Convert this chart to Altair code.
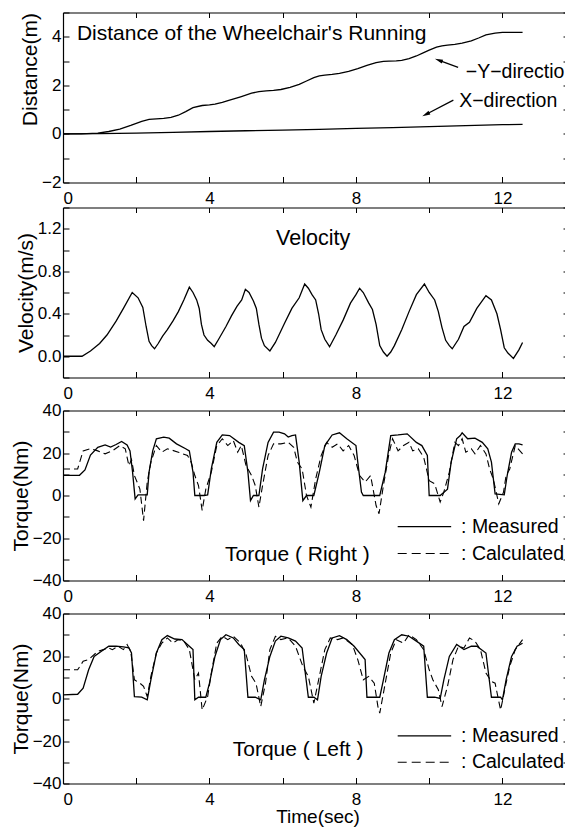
import altair as alt
import pandas as pd

FONT = "Liberation Sans"
W, H = 509, 170
X_DOM = [0, 13.9]
X_LABELS = [0, 4, 8, 12]
X_TICKS = [0, 2, 4, 6, 8, 10, 12]

# ---------------- data ----------------
# Panel 1: distance
disty_t = [0, 0.5, 0.95, 1.25, 1.55, 1.85, 2.15, 2.35, 2.55, 2.75, 2.95, 3.15, 3.35, 3.55, 3.8, 4.0,
           4.15, 4.35, 4.55, 4.85, 5.15, 5.35, 5.55, 5.75, 5.95, 6.2, 6.45, 6.65, 6.85, 7.0, 7.15,
           7.35, 7.55, 7.8, 8.05, 8.3, 8.55, 8.75, 8.9, 9.1, 9.25, 9.45, 9.65, 9.85, 10.0, 10.2,
           10.35, 10.5, 10.7, 10.9, 11.15, 11.35, 11.55, 11.8, 12.0, 12.3, 12.55]
disty_v = [0, 0.0, 0.03, 0.1, 0.2, 0.35, 0.52, 0.6, 0.62, 0.64, 0.68, 0.77, 0.92, 1.08, 1.17, 1.2,
           1.23, 1.3, 1.39, 1.53, 1.68, 1.74, 1.77, 1.79, 1.83, 1.92, 2.04, 2.18, 2.32, 2.39, 2.42,
           2.45, 2.49, 2.58, 2.69, 2.82, 2.94, 2.99, 3.0, 3.01, 3.03, 3.1, 3.21, 3.35, 3.45, 3.57,
           3.63, 3.66, 3.69, 3.74, 3.83, 3.95, 4.08, 4.15, 4.18, 4.18, 4.18]
distx_t = [0, 1, 2, 3, 4, 5, 6, 7, 8, 9, 10, 11, 12, 12.55]
distx_v = [0, 0.01, 0.03, 0.06, 0.1, 0.13, 0.16, 0.19, 0.23, 0.26, 0.3, 0.34, 0.38, 0.39]

# Panel 2: velocity
vel_t = [0, 0.52, 0.75, 1.0, 1.2, 1.45, 1.65, 1.89, 2.05, 2.18, 2.27, 2.35, 2.42, 2.5, 2.6, 2.72,
         2.85, 3.0, 3.15, 3.3, 3.45, 3.55, 3.65, 3.72, 3.78, 3.85, 3.95, 4.05, 4.13, 4.25, 4.45,
         4.6, 4.75, 4.88, 4.98, 5.08, 5.2, 5.28, 5.35, 5.42, 5.5, 5.65, 5.8, 6.05, 6.25, 6.45,
         6.6, 6.7, 6.8, 6.9, 6.98, 7.05, 7.15, 7.28, 7.45, 7.65, 7.85, 8.0, 8.1, 8.2, 8.35, 8.45,
         8.55, 8.65, 8.75, 8.85, 8.95, 9.05, 9.25, 9.45, 9.65, 9.87, 10.0, 10.15, 10.25, 10.35,
         10.45, 10.55, 10.63, 10.8, 10.95, 11.1, 11.3, 11.55, 11.7, 11.85, 11.95, 12.05, 12.15,
         12.3, 12.45, 12.55]
vel_v = [0, 0, 0.05, 0.12, 0.2, 0.33, 0.45, 0.6, 0.55, 0.46, 0.28, 0.14, 0.1, 0.07, 0.12, 0.19,
         0.25, 0.33, 0.42, 0.53, 0.65, 0.6, 0.53, 0.45, 0.3, 0.2, 0.15, 0.12, 0.09, 0.16, 0.28,
         0.38, 0.47, 0.53, 0.63, 0.6, 0.52, 0.45, 0.3, 0.17, 0.1, 0.05, 0.13, 0.31, 0.45, 0.55,
         0.68, 0.64, 0.58, 0.53, 0.4, 0.25, 0.16, 0.09, 0.2, 0.34, 0.5, 0.58, 0.64, 0.6, 0.5, 0.44,
         0.3, 0.1, 0.04, 0.0, 0.04, 0.1, 0.25, 0.42, 0.58, 0.68, 0.6, 0.53, 0.42, 0.27,
         0.15, 0.1, 0.07, 0.16, 0.28, 0.32, 0.45, 0.57, 0.53, 0.4, 0.25, 0.08, 0.03,
         -0.02, 0.06, 0.13]

# Panel 3: torque right
rm_t = [0, 0.45, 0.6, 0.75, 0.95, 1.15, 1.3, 1.45, 1.6, 1.75, 1.83, 1.9, 1.97, 2.05, 2.3, 2.35,
        2.45, 2.55, 2.75, 2.9, 3.1, 3.35, 3.45, 3.55, 3.6, 3.85, 3.95, 4.05, 4.2, 4.35, 4.55, 4.8,
        4.95, 5.05, 5.12, 5.2, 5.35, 5.45, 5.6, 5.75, 5.9, 6.05, 6.15, 6.25, 6.35, 6.45, 6.55,
        6.65, 6.85, 7.0, 7.15, 7.35, 7.55, 7.75, 8.0, 8.05, 8.15, 8.2, 8.65, 8.8, 8.95, 9.15, 9.4,
        9.65, 9.8, 9.95, 10.0, 10.3, 10.5, 10.6, 10.75, 10.85, 10.9, 11.05, 11.25, 11.45, 11.6,
        11.7, 11.8, 12.05, 12.13, 12.25, 12.35, 12.45, 12.55]
rm_v = [9.5, 9.5, 12, 19, 22.7, 23.8, 22.8, 24, 25.4, 23.8, 21, 11, -1.6, 0.3, 0.3, 11,
        21, 26.7, 27.5, 27, 24.3, 22, 21, 11, 0, 0, 0.3, 12.5, 25, 28.5, 28.2, 25,
        23.5, 11, -2.4, 0, 0, 12.5, 25, 29.8, 29.8, 29, 27.5, 28.2, 28.5, 15.7, -2.4,
        0, 0, 11, 23.5, 28.5, 29.5, 26.7, 23.5, 15.7, 1.6, 0, 0, 11, 28.2, 28.5, 29,
        25, 23.5, 18.8, 0, 0, 3, 15.7, 26.7, 28.2, 29.5, 26.7, 27, 25, 22,
        15.7, 0.8, 0.3, 9.4, 20.4, 24.3, 24.3, 23.8]
rc_t = [0, 0.4, 0.55, 0.75, 0.95, 1.15, 1.35, 1.55, 1.7, 1.8, 1.87, 1.95, 2.1, 2.2, 2.3, 2.4,
        2.55, 2.7, 2.85, 3.15, 3.4, 3.5, 3.6, 3.7, 3.8, 3.9, 4.05, 4.2, 4.35, 4.5, 4.65, 4.77,
        4.87, 5.0, 5.15, 5.25, 5.35, 5.45, 5.6, 5.75, 5.95, 6.15, 6.3, 6.4, 6.53, 6.65, 6.77,
        6.9, 7.05, 7.2, 7.35, 7.5, 7.65, 7.8, 7.95, 8.1, 8.25, 8.4, 8.55, 8.63, 8.75, 8.9, 9.0,
        9.15, 9.3, 9.45, 9.55, 9.7, 9.85, 10.0, 10.15, 10.3, 10.4, 10.55, 10.7, 10.8, 10.9, 11.0,
        11.15, 11.25, 11.4, 11.55, 11.65, 11.75, 11.9, 12.03, 12.1, 12.2, 12.35, 12.55]
rc_v = [12.5, 12.5, 21, 22, 21, 19.6, 21, 23.5, 22, 14, 17, 9.4, 3, -11.8, 6.3, 15.7,
        23.5, 20.4, 22, 20.4, 18.8, 15.7, 9.4, 4.7, -7, 3, 11, 23.5, 26.7, 23.5, 25.9, 20.4,
        23.5, 14, 9.4, 4.7, -5.5, 4.7, 18.8, 24.3, 24.3, 25, 22.7, 15.7, 12.5, 0, -5.5,
        7.8, 18.8, 25, 22.7, 24.3, 21, 23.5, 18.8, 9.4, 6.3, 9.4, -4.7, -8.6, 4.7, 19.6, 26.7,
        21, 23.5, 25, 21, 22, 18, 7, 5.5, -3.1, 1.6, 11, 25, 23.5, 26.7, 20.4,
        22, 19.6, 23.5, 19.6, 12.5, 7.8, -3.9, 1.6, 9.4, 12.5, 23.5, 19.6]

# Panel 4: torque left
lm_t = [0, 0.4, 0.55, 0.7, 0.85, 1.05, 1.25, 1.45, 1.65, 1.8, 1.87, 1.95, 2.15, 2.3, 2.4, 2.55,
        2.7, 2.85, 3.05, 3.25, 3.45, 3.55, 3.6, 3.7, 3.9, 4.0, 4.15, 4.3, 4.45, 4.65, 4.8, 4.95,
        5.05, 5.25, 5.4, 5.5, 5.65, 5.8, 5.95, 6.15, 6.35, 6.53, 6.7, 6.85, 6.95, 7.05, 7.2,
        7.35, 7.55, 7.75, 7.95, 8.25, 8.3, 8.65, 8.75, 8.9, 9.05, 9.25, 9.45, 9.65, 9.85, 9.95,
        10.15, 10.3, 10.4, 10.55, 10.75, 10.95, 11.15, 11.3, 11.55, 11.7, 11.95, 12.0, 12.1,
        12.25, 12.4, 12.55]
lm_v = [1.7, 2, 4.9, 13.5, 19.8, 22.2, 24.6, 24.6, 24.3, 23.8, 21.4, 0.9, 0.6, -0.6, 8.8, 21.4,
        27.7, 29.6, 28, 27.7, 24.6, 23, -0.6, 0.6, 0.6, 7.2, 19.8, 27.7, 30, 28.5, 25.4, 23,
        0.6, 0.6, -0.6, 8.8, 19.8, 27, 29.3, 28.5, 27, 23.8, 0.6, 0.6, -0.6, 10.4, 21.4,
        28.5, 29.6, 27.7, 24.6, 18.3, 0.6, 0.6, 8.8, 21.4, 27.7, 30, 29.3, 27, 24.6, 0.6,
        0.6, 0, 8.8, 19.8, 25.4, 23, 24.6, 24.6, 21.4, 0.6, 0.6, -0.6, 8.8,
        19.8, 24.6, 26]
lc_t = [0, 0.4, 0.55, 0.7, 0.95, 1.1, 1.25, 1.35, 1.5, 1.65, 1.75, 1.85, 1.95, 2.1, 2.2, 2.3,
        2.4, 2.55, 2.7, 2.85, 3.0, 3.15, 3.3, 3.45, 3.6, 3.7, 3.8, 3.95, 4.05, 4.2, 4.35, 4.5,
        4.65, 4.85, 5.0, 5.15, 5.27, 5.4, 5.53, 5.65, 5.8, 5.95, 6.15, 6.35, 6.55, 6.7, 6.85,
        7.0, 7.15, 7.3, 7.5, 7.65, 7.9, 8.05, 8.2, 8.35, 8.5, 8.6, 8.65, 8.8, 8.95, 9.1, 9.3,
        9.45, 9.65, 9.85, 10.0, 10.1, 10.25, 10.35, 10.5, 10.65, 10.8, 10.95, 11.1, 11.25, 11.4,
        11.55, 11.7, 11.8, 11.95, 12.1, 12.2, 12.35, 12.55]
lc_v = [13.5, 13.5, 17.5, 18.3, 22.2, 23, 23.8, 23, 24.6, 23, 25.4, 22.2, 8.8, 7.2, 5.7, 0.9,
        10.4, 21.4, 26.1, 28.5, 26.1, 27.7, 27, 23, 8.8, 12, -5.4, 0.9, 12, 26.1, 29.3, 27.7,
        29.3, 26.1, 20.6, 10.4, 7.2, -3.8, 7.2, 23, 29.3, 27.7, 28.5, 24.6, 15.1, 10.4, -2.2,
        10.4, 23, 28.5, 27.7, 28.5, 25.4, 18.3, 8.8, 10.4, 7.2, -3.8, -6.9, 7.2, 21.4, 27.7, 26.1,
        30, 27.7, 23, 13.5, 8.8, 4.1, -3.8, 5.7, 18.3, 24.6, 23.8, 28.5, 27, 23,
        12, 8, 7.2, -5.4, 7.2, 15.1, 23, 27.7]

# annotation anchors (data coordinates)
dir_labels = ["\u2212Y\u2212direction", "X\u2212direction"]
dir_t = [11.0, 10.82]
dir_v = [2.55, 1.35]
arrow_t1 = [10.79, 10.66]
arrow_v1 = [2.74, 1.39]
arrow_t2 = [10.27, 9.92]
arrow_v2 = [3.03, 0.81]
arrow_angle = [290, 243]

legend_names = [": Measured", ": Calculated"]
legend_line_t = [9.14, 10.6]
legend_text_t = 10.87
right_legend_v = [-14.6, -27.3]
left_legend_v = [-17.6, -30.0]


def line_df(t, v):
    return pd.DataFrame({"t": t, "v": v})


def xs():
    return alt.Scale(domain=X_DOM, nice=False, zero=False)


def panel(ydom, ylabels, yticks, ytitle, yformat, content, xtitle=None, title_anchor=None):
    ys = alt.Scale(domain=ydom, nice=False, zero=False)
    frame = pd.DataFrame({"t": X_DOM, "v": ydom})
    yaxis_kw = dict(orient="left", values=ylabels, ticks=False, tickSize=0, domain=True,
                    labelPadding=2, grid=False, format=yformat, title=ytitle, titlePadding=1)
    if title_anchor is not None:
        yaxis_kw["titleAnchor"] = title_anchor
    xaxis_kw = dict(orient="bottom", values=X_LABELS, ticks=False, tickSize=0, domain=True,
                    labelPadding=8, grid=False, format="d", title=xtitle, titlePadding=0,
                    titleFontSize=19)
    invisible = dict(opacity=0, strokeWidth=0.1)
    main = alt.Chart(frame).mark_line(**invisible).encode(
        x=alt.X("t:Q", scale=xs(), axis=alt.Axis(**xaxis_kw)),
        y=alt.Y("v:Q", scale=ys, axis=alt.Axis(**yaxis_kw)),
    )
    tick_a = alt.Chart(frame).mark_line(**invisible).encode(
        x=alt.X("t:Q", scale=xs(), axis=alt.Axis(orient="top", offset=-H, values=X_TICKS,
                                                 domain=False, labels=False, tickSize=6,
                                                 grid=False, title=None)),
        y=alt.Y("v:Q", scale=ys, axis=alt.Axis(orient="right", offset=-W, values=yticks,
                                               domain=False, labels=False, tickSize=6,
                                               grid=False, title=None)),
    )
    tick_b = alt.Chart(frame).mark_line(**invisible).encode(
        x=alt.X("t:Q", scale=xs(), axis=alt.Axis(orient="bottom", offset=-H, values=X_TICKS,
                                                 domain=True, labels=False, tickSize=5,
                                                 grid=False, title=None)),
        y=alt.Y("v:Q", scale=ys, axis=alt.Axis(orient="left", offset=-W, values=yticks,
                                               domain=False, labels=False, tickSize=9,
                                               grid=False, title=None)),
    )
    layers = [main, tick_a, tick_b] + [c(ys) for c in content]
    return alt.layer(*layers).resolve_axis(x="independent", y="independent").properties(
        width=W, height=H)


def enc(ys, **extra):
    d = dict(x=alt.X("t:Q", scale=xs(), axis=None), y=alt.Y("v:Q", scale=ys, axis=None))
    d.update(extra)
    return d


def solid(t, v):
    return lambda ys: alt.Chart(line_df(t, v)).mark_line(
        color="black", strokeWidth=1.3).encode(**enc(ys))


def dashed(t, v):
    return lambda ys: alt.Chart(line_df(t, v)).mark_line(
        color="black", strokeWidth=1.1, strokeDash=[7, 4]).encode(**enc(ys))


def label(text, t, v, size, align="left"):
    df = pd.DataFrame({"t": [t], "v": [v], "s": [text]})
    return lambda ys: alt.Chart(df).mark_text(
        font=FONT, fontSize=size, align=align, baseline="middle", color="black", clip=True
    ).encode(**enc(ys, text="s:N"))


def arrows(ys):
    df = pd.DataFrame({"t": arrow_t1, "v": arrow_v1, "t2": arrow_t2, "v2": arrow_v2,
                       "a": arrow_angle})
    shaft = alt.Chart(df).mark_rule(color="black", strokeWidth=1.3).encode(
        x=alt.X("t:Q", scale=xs(), axis=None), y=alt.Y("v:Q", scale=ys, axis=None),
        x2="t2:Q", y2="v2:Q")
    head = alt.Chart(df).mark_point(
        shape="M0,-1L0.45,0.8L-0.45,0.8Z", filled=True, color="black", size=80, opacity=1
    ).encode(x=alt.X("t2:Q", scale=xs(), axis=None), y=alt.Y("v2:Q", scale=ys, axis=None),
             angle=alt.Angle("a:Q", scale=None))
    return alt.layer(shaft, head)


def dir_text(ys):
    df = pd.DataFrame({"t": dir_t, "v": dir_v, "s": dir_labels})
    return alt.Chart(df).mark_text(font=FONT, fontSize=19.5, align="left", baseline="middle",
                                   color="black", clip=True).encode(**enc(ys, text="s:N"))


def legend(vals):
    def f(ys):
        df = pd.DataFrame({"t": [legend_line_t[0]] * 2, "t2": [legend_line_t[1]] * 2,
                           "v": vals, "s": legend_names})
        line_m = alt.Chart(df.iloc[[0]]).mark_rule(color="black", strokeWidth=1.3).encode(
            x=alt.X("t:Q", scale=xs(), axis=None), x2="t2:Q",
            y=alt.Y("v:Q", scale=ys, axis=None))
        line_c = alt.Chart(df.iloc[[1]]).mark_rule(color="black", strokeWidth=1.1,
                                                   strokeDash=[9, 5]).encode(
            x=alt.X("t:Q", scale=xs(), axis=None), x2="t2:Q",
            y=alt.Y("v:Q", scale=ys, axis=None))
        txt = alt.Chart(df.assign(tt=legend_text_t)).mark_text(
            font=FONT, fontSize=19.5, align="left", baseline="middle", color="black",
            clip=True
        ).encode(x=alt.X("tt:Q", scale=xs(), axis=None), y=alt.Y("v:Q", scale=ys, axis=None),
                 text="s:N")
        return alt.layer(line_m, line_c, txt)
    return f


p1 = panel([-2, 5], [-2, 0, 2, 4], [-2, -1, 0, 1, 2, 3, 4, 5], "Distance(m)", "d",
           [solid(disty_t, disty_v), solid(distx_t, distx_v),
            label("Distance of the Wheelchair's Running", 0.38, 4.1, 21),
            dir_text, arrows], title_anchor="end")
p2 = panel([-0.2, 1.4], [0.0, 0.4, 0.8, 1.2],
           [-0.2, 0.0, 0.2, 0.4, 0.6, 0.8, 1.0, 1.2, 1.4], "Velocity(m/s)", ".1f",
           [solid(vel_t, vel_v), label("Velocity", 6.83, 1.10, 21.5, align="center")])
p3 = panel([-40, 40], [-40, -20, 0, 20, 40], [-40, -30, -20, -10, 0, 10, 20, 30, 40],
           "Torque(Nm)", "d",
           [solid(rm_t, rm_v), dashed(rc_t, rc_v),
            label("Torque ( Right )", 6.4, -28.2, 21, align="center"),
            legend(right_legend_v)])
p4 = panel([-40, 40], [-40, -20, 0, 20, 40], [-40, -30, -20, -10, 0, 10, 20, 30, 40],
           "Torque(Nm)", "d",
           [solid(lm_t, lm_v), dashed(lc_t, lc_v),
            label("Torque ( Left )", 6.42, -24.3, 21, align="center"),
            legend(left_legend_v)], xtitle="Time(sec)")

chart = alt.vconcat(p1, p2, p3, p4, spacing=0).properties(
    padding={"left": 2, "top": 3.5, "right": -8, "bottom": 0}
).configure_view(strokeWidth=0).configure_axis(
    labelFont=FONT, titleFont=FONT, labelFontSize=17, titleFontSize=21,
    titleFontWeight="normal", domainColor="black", tickColor="black", labelColor="black",
    titleColor="black", domainWidth=1.2, tickWidth=1
)

chart.save("out.html", embed_options={"renderer": "svg", "actions": False})
